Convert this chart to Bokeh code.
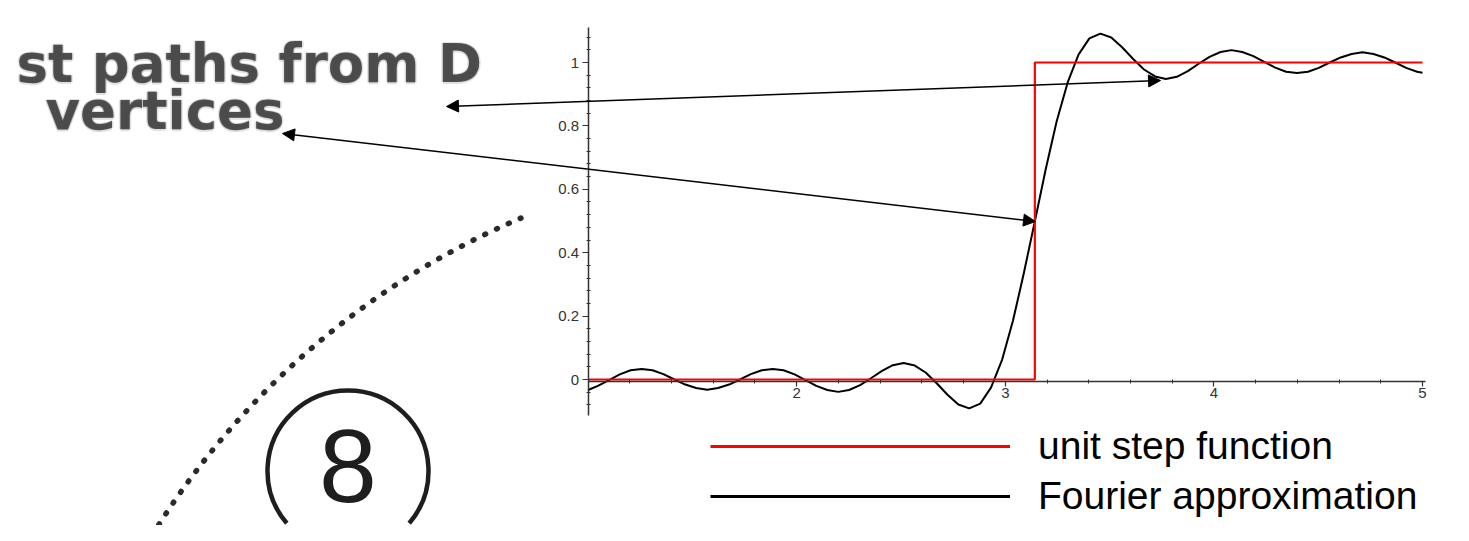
from bokeh.plotting import figure
from bokeh.models import (Range1d, FixedTicker, CustomJSTickFormatter, Arrow, NormalHead,
                          Legend, LegendItem)
from bokeh.core.properties import value
from bokeh.embed import file_html
from bokeh.resources import INLINE

# ---------------- data ----------------
fourier_x = [1.000, 1.047, 1.100, 1.152, 1.204, 1.257, 1.309, 1.361, 1.414, 1.466,
             1.518, 1.571, 1.623, 1.676, 1.728, 1.780, 1.833, 1.885, 1.937, 1.990,
             2.042, 2.094, 2.147, 2.199, 2.251, 2.304, 2.356, 2.409, 2.461, 2.513,
             2.566, 2.618, 2.670, 2.723, 2.775, 2.827, 2.880, 2.932, 2.985, 3.037,
             3.089, 3.142, 3.194, 3.246, 3.299, 3.351, 3.403, 3.456, 3.508, 3.560,
             3.613, 3.665, 3.718, 3.770, 3.822, 3.875, 3.927, 3.979, 4.032, 4.084,
             4.136, 4.189, 4.241, 4.294, 4.346, 4.398, 4.451, 4.503, 4.555, 4.608,
             4.660, 4.712, 4.765, 4.817, 4.869, 4.922, 4.974, 5.000]
fourier_y = [-0.033, -0.020, -0.002, 0.016, 0.029, 0.033, 0.029, 0.017, 0.000, -0.016,
             -0.027, -0.032, -0.027, -0.016, 0.000, 0.017, 0.029, 0.033, 0.029, 0.016,
             -0.002, -0.020, -0.033, -0.039, -0.033, -0.018, 0.004, 0.027, 0.045, 0.052,
             0.044, 0.022, -0.011, -0.048, -0.079, -0.091, -0.076, -0.025, 0.063, 0.186,
             0.336, 0.500, 0.664, 0.814, 0.937, 1.025, 1.076, 1.091, 1.079, 1.048,
             1.011, 0.978, 0.956, 0.948, 0.955, 0.973, 0.996, 1.018, 1.033, 1.039,
             1.033, 1.020, 1.002, 0.984, 0.971, 0.967, 0.971, 0.983, 1.000, 1.016,
             1.027, 1.032, 1.027, 1.016, 1.000, 0.983, 0.971, 0.968]
step_x = [1.0, 3.1416, 3.1416, 5.0]
step_y = [0.0, 0.0, 1.0, 1.0]
x_ticks = [2, 3, 4, 5]
y_ticks = [0, 0.2, 0.4, 0.6, 0.8, 1]
legend_labels = ["unit step function", "Fourier approximation"]
text_line1 = "st paths from D"
text_line2 = "vertices"
circle_label = "8"

# ---------------- layout (picture pixels -> data) ----------------
W, H = 1453, 525
OFF = 0                        # picture offset of the canvas
SX, SY = 208.6, 317.0          # pixels per data unit
X1_PX, Y0_PX = 587.6, 379.0    # picture pixel of x=1 and of y=0
xmin = 1 - (X1_PX - OFF) / SX
xmax = xmin + W / SX
ymax = (Y0_PX - OFF) / SY
ymin = ymax - H / SY


def px(x):
    return 1 + (x - X1_PX) / SX


def py(y):
    return (Y0_PX - y) / SY


BASE_SHIFT = 0.39  # svg "alphabetic" anchor compensation (in em)


def base(y_px, size):
    return py(y_px - BASE_SHIFT * size)


p = figure(width=W, height=H, output_backend="svg", toolbar_location=None,
           x_range=Range1d(xmin, xmax), y_range=Range1d(ymin, ymax),
           min_border=0, outline_line_color=None,
           background_fill_color="white", border_fill_color="white")
p.xgrid.grid_line_color = None
p.ygrid.grid_line_color = None

# ---------------- axes (Maple style, crossing inside the frame) ----------------
AX_COL = "#333333"
xa = p.xaxis[0]
xa.fixed_location = -0.005
xa.bounds = (1, 5.015)
xa.ticker = FixedTicker(ticks=x_ticks,
                        minor_ticks=[round(1 + i * 0.2, 1) for i in range(1, 21) if i % 5])
xa.formatter = CustomJSTickFormatter(code="return String(Math.round(tick*10)/10)")
xa.axis_line_color = AX_COL
xa.axis_line_width = 1.5
xa.major_tick_line_color = AX_COL
xa.major_tick_line_width = 1.2
xa.major_tick_in = 0
xa.major_tick_out = 5
xa.minor_tick_line_color = AX_COL
xa.minor_tick_in = 2
xa.minor_tick_out = 2
xa.major_label_standoff = 2
xa.major_label_text_font = "Liberation Sans"
xa.major_label_text_font_size = "15px"
xa.major_label_text_color = "#333333"

ya = p.yaxis[0]
ya.fixed_location = 1
ya.bounds = (-0.115, 1.11)
ya.ticker = FixedTicker(ticks=y_ticks,
                        minor_ticks=[round(i * 0.04, 2) for i in range(-2, 28) if i % 5])
ya.formatter = CustomJSTickFormatter(code="return String(Math.round(tick*10)/10)")
ya.axis_line_color = AX_COL
ya.axis_line_width = 1.5
ya.major_tick_line_color = AX_COL
ya.major_tick_line_width = 1.2
ya.major_tick_in = 0
ya.major_tick_out = 6
ya.minor_tick_line_color = AX_COL
ya.minor_tick_in = 2
ya.minor_tick_out = 2
ya.major_label_standoff = 3
ya.major_label_text_font = "Liberation Sans"
ya.major_label_text_font_size = "15px"
ya.major_label_text_color = "#333333"

# ---------------- curves ----------------
r_four = p.line(fourier_x, fourier_y, line_color="black", line_width=2, line_join="round")
r_step = p.line(step_x, step_y, line_color="#ff0000", line_width=2.2)

# legend-only glyphs (thicker strokes, as in the reference key); no visible data
NAN = float("nan")
k_step = p.line(x=[NAN], y=[NAN], line_color="#ff0000", line_width=3.2)
k_four = p.line(x=[NAN], y=[NAN], line_color="black", line_width=3.2)

# ---------------- pasted picture on the left ----------------
TXT = value("DejaVu Sans")
FS = 53
lines = [(text_line1, 16, 84), (text_line2, 45, 131)]
for t, xl, yb in lines:
    for dx, dy in [(-1.5, 0), (1.5, 0), (0, -1.5), (0, 1.5)]:
        p.text(x=[px(xl)], y=[base(yb, FS)], text=[t], text_align="left",
               text_baseline="alphabetic", text_font=TXT, text_font_style="bold",
               text_font_size=f"{FS}px", text_color="#777777", text_alpha=0.22,
               x_offset=dx, y_offset=dy)
    p.text(x=[px(xl)], y=[base(yb, FS)], text=[t], text_align="left",
           text_baseline="alphabetic", text_font=TXT, text_font_style="bold",
           text_font_size=f"{FS}px", text_color="#333333", text_alpha=0.8)

# dotted arc
p.bezier(x0=[px(158.3)], y0=[py(524.2)], x1=[px(520.4)], y1=[py(217.6)],
         cx0=[px(245.2)], cy0=[py(387.7)], cx1=[px(371.5)], cy1=[py(280.8)],
         line_color="#2a2a2a", line_width=5.5, line_dash="1 12", line_cap="round")

# circled 8
p.arc(x=[px(347.5)], y=[py(470.5)], radius=80.5, radius_units="screen",
      start_angle=-0.707, end_angle=3.849, direction="anticlock",
      line_color="#1e1e1e", line_width=4.5)
p.text(x=[px(347.5)], y=[base(506, 104)], text=[circle_label], text_align="center",
       text_baseline="alphabetic", text_font=value("Liberation Sans"),
       text_font_size="104px", text_color="#1e1e1e")

# ---------------- arrows ----------------
for (xs, ys, xe, ye) in [(446, 106, 1160, 80), (282, 133, 1035, 221)]:
    p.add_layout(Arrow(start=NormalHead(size=12, fill_color="black", line_color="black"),
                       end=NormalHead(size=12, fill_color="black", line_color="black"),
                       x_start=px(xs), y_start=py(ys), x_end=px(xe), y_end=py(ye),
                       line_color="black", line_width=1.5))

# ---------------- legend ----------------
legend = Legend(items=[LegendItem(label=legend_labels[0], renderers=[k_step]),
                       LegendItem(label=legend_labels[1], renderers=[k_four])],
                location=(710 - OFF, H - (521 - OFF)), glyph_width=300, glyph_height=50,
                label_standoff=28, spacing=0, padding=0, margin=0,
                label_text_font="Liberation Sans", label_text_font_size="39px",
                label_text_color="black", border_line_color=None,
                background_fill_alpha=0)
p.add_layout(legend)

open("out.html", "w").write(file_html(p, INLINE))
